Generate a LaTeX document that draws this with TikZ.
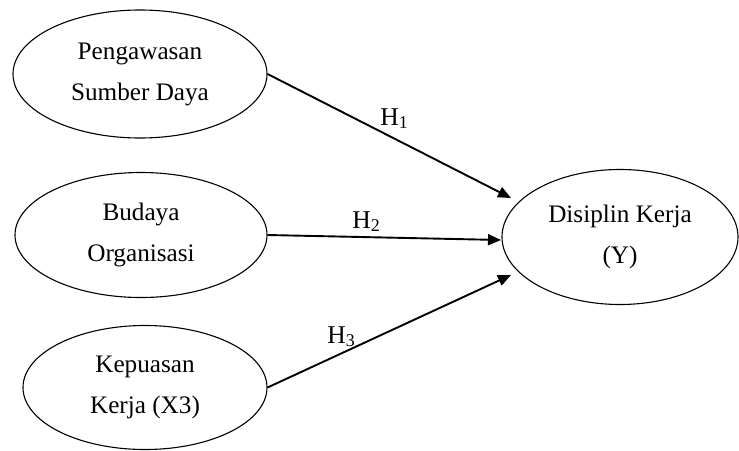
\documentclass[tikz,border=0pt]{standalone}
\usepackage{fontspec}
\setmainfont{Liberation Serif}
\usetikzlibrary{shapes.geometric,arrows.meta}
\begin{document}
\begin{tikzpicture}[x=0.5pt,y=-0.5pt,
  var/.style={draw=black,line width=0.55pt,shape=ellipse,inner sep=0pt,align=center,
    font=\fontsize{12.6}{20.5}\selectfont},
  path/.style={line width=0.95pt,-{Triangle[length=6.5pt,width=5.5pt]}},
  hlab/.style={anchor=base west,inner sep=0pt,font=\fontsize{12.8}{14}\selectfont}]
\useasboundingbox (0,0) rectangle (739,450);
\node[var,minimum width=127pt,minimum height=64pt] (x1) at (140,74) {Pengawasan\\Sumber Daya};
\node[var,minimum width=126pt,minimum height=62.5pt] (x2) at (141,235) {Budaya\\Organisasi};
\node[var,minimum width=122pt,minimum height=62pt] (x3) at (145,387.5) {Kepuasan\\Kerja (X3)};
\node[var,minimum width=118pt,minimum height=67.5pt] (y) at (620,237) {Disiplin Kerja\\(Y)};
\coordinate (t1) at (511,198);
\coordinate (t2) at (501,240);
\coordinate (t3) at (511,275);
\draw[path] (x1.east) -- (t1);
\draw[path] (x2.east) -- (t2);
\draw[path] (x3.east) -- (t3);
\node[hlab] (h1) at (380,125) {H\textsubscript{1}};
\node[hlab] (h2) at (352,228) {H\textsubscript{2}};
\node[hlab] (h3) at (327,343) {H\textsubscript{3}};
\end{tikzpicture}
\end{document}
